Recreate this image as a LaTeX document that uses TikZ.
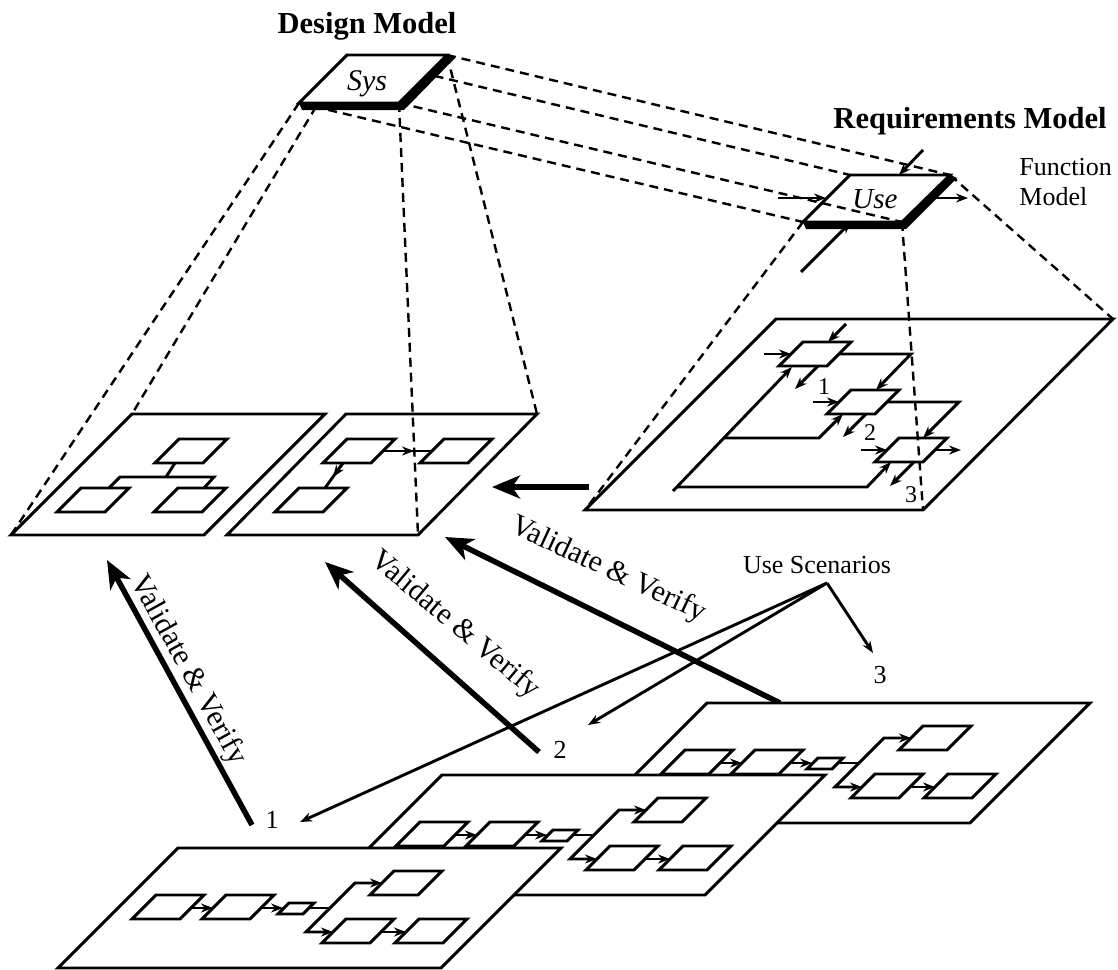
\documentclass[tikz,border=0pt]{standalone}
\usepackage{fontspec}
\setmainfont{Liberation Serif}
\usetikzlibrary{arrows.meta}

% block of a function diagram, lower left corner at (#1,#2)
\newcommand{\funcbox}[2]{\draw (#1,#2) -- ++(48,0) -- ++(24,-24) -- ++(-48,0) -- cycle;}

% use scenario sheet, upper left corner at (#1,#2)
\newcommand{\scenario}[2]{%
  \begin{scope}[shift={(#1,#2)}]
    \filldraw[fill=white] (0,0) -- (383,0) -- (263,120) -- (-120,120) -- cycle;
    \funcbox{-46}{71} \funcbox{24}{71}
    \draw (100,66) -- ++(25,0) -- ++(11,-11) -- ++(-25,0) -- cycle;
    \funcbox{192}{47} \funcbox{144}{95} \funcbox{217}{95}
    \draw[arr] (13,60) -- (35,60);
    \draw[arr] (83,60) -- (105,60);
    \draw (130,60) -- (152,60);
    \draw[arr] (152,60) -- (177,35) -- (204,35);
    \draw[arr] (152,60) -- (128,84) -- (155,84);
    \draw[arr] (203,84) -- (228,84);
  \end{scope}}

\begin{document}
\begin{tikzpicture}[x=1pt,y=-1pt,line width=2.9pt,
  proj/.style={line width=2.4pt,dash pattern=on 9pt off 6pt},
  arr/.style={-{Stealth[length=12pt,width=9pt]}},
  bigarr/.style={line width=5.5pt,-{Stealth[length=28pt,width=23pt,inset=8pt]}},
  mtitle/.style={font=\fontsize{30.5}{36}\selectfont\bfseries},
  txt/.style={font=\fontsize{26}{30}\selectfont},
  vv/.style={font=\fontsize{30}{36}\selectfont}]
  \useasboundingbox (0,0) rectangle (1118,969);

  % corners
  \coordinate (s-tl) at (347,55);  \coordinate (s-tr) at (447,55);
  \coordinate (s-bl) at (299,103); \coordinate (s-br) at (399,103);
  \coordinate (u-tl) at (850,175); \coordinate (u-tr) at (950,175);
  \coordinate (u-bl) at (803,222); \coordinate (u-br) at (902,222);
  \coordinate (a-tl) at (132,414); \coordinate (a-bl) at (11,535);
  \coordinate (b-tr) at (537,414); \coordinate (b-br) at (418,535);
  \coordinate (r-tl) at (776,319); \coordinate (r-tr) at (1113,319);
  \coordinate (r-bl) at (585,510); \coordinate (r-br) at (923,510);

%projections:
  \draw[proj] (s-bl) -- (a-bl);
  \draw[proj] (s-tl) -- (a-tl);
  \draw[proj] (s-br) -- (b-br);
  \draw[proj] (s-tr) -- (b-tr);
  \foreach \c in {tl,tr,bl,br} \draw[proj] (s-\c) -- (u-\c);
  \foreach \c in {tr,bl,br} \draw[proj] (u-\c) -- (r-\c);

%sys and use:
  \filldraw[fill=white] (s-bl) -- (s-br) -- (s-tr) -- (s-tl) -- cycle;
  \fill (s-bl) -- (s-br) -- (s-tr) -- (455,58) -- (404,110) -- (302,110) -- cycle;
  \node[font=\fontsize{30}{36}\selectfont\itshape,anchor=base] (sys) at (367,90) {Sys};
  \draw (u-bl) -- (u-br) -- (u-tr) -- (u-tl) -- cycle;
  \fill (u-bl) -- (u-br) -- (u-tr) -- (957,178) -- (906,229) -- (806,229) -- cycle;
  \node[font=\fontsize{29}{36}\selectfont\itshape,anchor=base] (use) at (875,208) {Use};
  \draw[arr] (923,150) -- (899,175);
  \draw[arr] (778,198) -- (826,198);
  \draw[arr] (926,198) -- (968,198);
  \draw[arr] (801,272) -- (851,222);

  \node[mtitle,anchor=base] (dm) at (367,33) {Design Model};
  \node[mtitle,anchor=base] (rm) at (970,128) {Requirements Model};
  \node[txt,align=left,anchor=north west,inner sep=0pt] (fm) at (1018,157) {Function\\Model};

%design sheets:
  \draw (a-bl) -- (204,535) -- (325,414) -- (a-tl) -- cycle;
  \funcbox{155}{463} \funcbox{57}{512} \funcbox{154}{512}
  \draw (109,488) -- (120,477) -- (214,477) -- (204,488);
  \draw (175,463) -- (166,477);
  \draw (227,535) -- (b-br) -- (b-tr) -- (346,414) -- cycle;
  \funcbox{323}{463} \funcbox{420}{463} \funcbox{275}{512}
  \draw (383,451) -- (432,451);
  \draw[arr] (383,451) -- (414,451);
  \draw (343,463) -- (325,488);
  \draw[arr] (343,463) -- (333,477);

%function model sheet:
  \draw (r-bl) -- (r-br) -- (r-tr) -- (r-tl) -- cycle;
  \funcbox{779}{366} \funcbox{827}{414} \funcbox{875}{462}
  \draw[arr] (764,354) -- (791,354);
  \draw[arr] (846,324) -- (828,342);
  \draw[arr] (839,354) -- (911,354) -- (876,390);
  \draw[arr] (818,366) -- (795,389);
  \draw[arr] (813,402) -- (839,402);
  \draw[arr] (887,402) -- (959,402) -- (923,438);
  \draw[arr] (866,414) -- (843,437);
  \draw[arr] (861,450) -- (887,450);
  \draw[arr] (935,450) -- (961,450);
  \draw[arr] (914,462) -- (890,486);
  \draw[arr] (673,491) -- (792,367);
  \draw[arr] (723,438) -- (819,438) -- (843,414);
  \draw[arr] (676,487) -- (867,487) -- (891,462);
  \node[font=\fontsize{24}{28}\selectfont] (f1) at (824,387) {1};
  \node[font=\fontsize{24}{28}\selectfont] (f2) at (870,433) {2};
  \node[font=\fontsize{24}{28}\selectfont] (f3) at (911,495) {3};

%validate and verify:
  \draw[bigarr] (589,487) -- (492,487);
  \draw[bigarr] (252,825) -- (107,560);
  \draw[bigarr] (539,752) -- (325,562);
  \draw[bigarr] (780,703) -- (445,537);
  \node[vv,rotate=-61] (vv1) at (188,670) {Validate \& Verify};
  \node[vv,rotate=-40] (vv2) at (455,625) {Validate \& Verify};
  \node[vv,rotate=-25] (vv3) at (608,570) {Validate \& Verify};

%use scenarios:
  \node[txt,anchor=base] (us) at (817,573) {Use Scenarios};
  \coordinate (fan) at (827,583);
  \node[txt] (n1) at (272,820) {1};
  \node[txt] (n2) at (560,750) {2};
  \node[txt] (n3) at (880,675) {3};
  \draw[arr] (fan) -- (300,822);
  \draw[arr] (fan) -- (588,725);
  \draw[arr] (fan) -- (873,653);

  \scenario{707}{703}
  \scenario{442}{775}
  \scenario{178}{848}
\end{tikzpicture}
\end{document}
